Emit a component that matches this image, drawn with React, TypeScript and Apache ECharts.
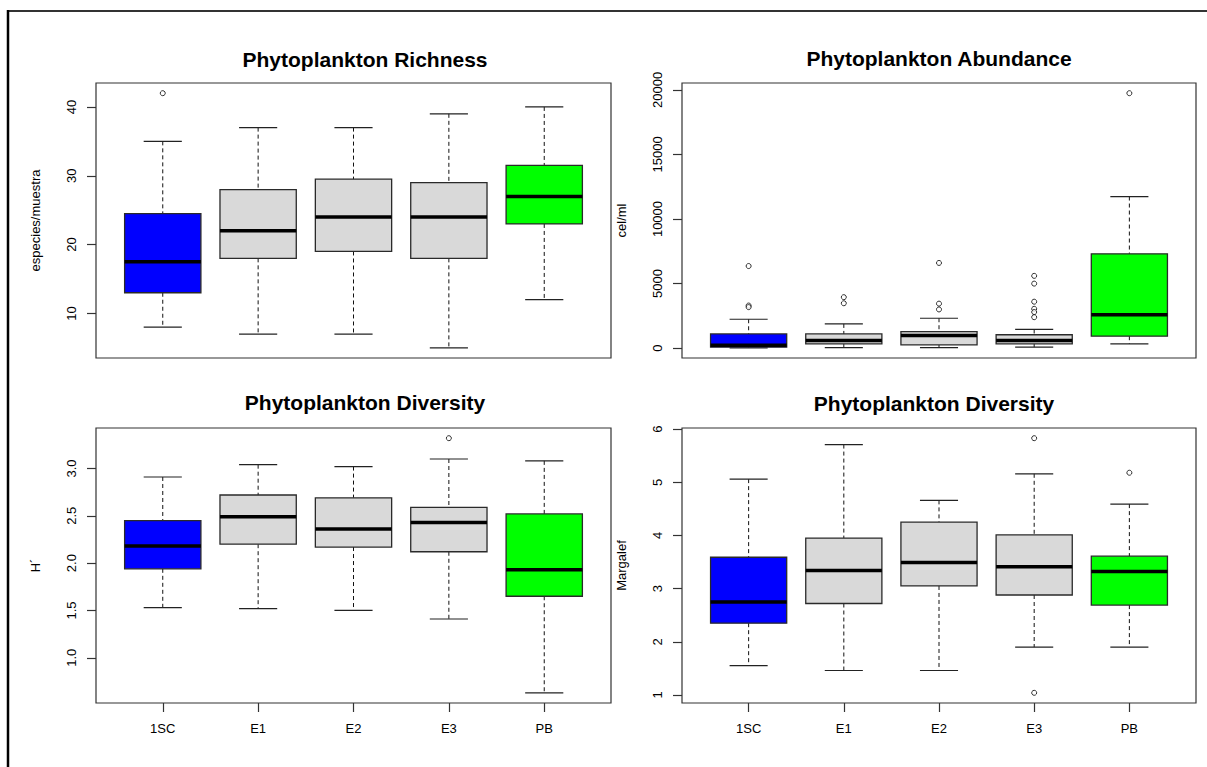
import React, { useEffect, useRef } from "react";
import * as echarts from "echarts";

// ---------- data ----------
const categories = ["1SC", "E1", "E2", "E3", "PB"];
const boxColors = ["#0000FF", "#D9D9D9", "#D9D9D9", "#D9D9D9", "#00FF00"];

// Phytoplankton Richness (especies/muestra)
const richLow = [8, 7, 7, 5, 12];
const richQ1 = [13, 18, 19, 18, 23];
const richMed = [17.5, 22, 24, 24, 27];
const richQ3 = [24.5, 28, 29.5, 29, 31.5];
const richHigh = [35, 37, 37, 39, 40];
const richOut = [[42], [], [], [], []];
const richTicks = [10, 20, 30, 40];

// Phytoplankton Abundance (cel/ml)
const abLow = [30, 50, 50, 80, 340];
const abQ1 = [80, 330, 255, 340, 930];
const abMed = [230, 595, 980, 595, 2585];
const abQ3 = [1105, 1105, 1290, 1040, 7305];
const abHigh = [2240, 1880, 2320, 1450, 11740];
const abOut = [
  [6360, 3300, 3180],
  [3950, 3480],
  [6600, 3450, 3000],
  [5600, 5000, 3600, 3050, 2800, 2400],
  [19740],
];
const abTicks = [0, 5000, 10000, 15000, 20000];

// Phytoplankton Diversity (H')
const hLow = [1.53, 1.52, 1.5, 1.41, 0.63];
const hQ1 = [1.94, 2.2, 2.17, 2.12, 1.65];
const hMed = [2.18, 2.49, 2.36, 2.43, 1.93];
const hQ3 = [2.45, 2.72, 2.69, 2.59, 2.52];
const hHigh = [2.91, 3.04, 3.02, 3.1, 3.08];
const hOut = [[], [], [], [3.32], []];
const hTicks = [1.0, 1.5, 2.0, 2.5, 3.0];

// Phytoplankton Diversity (Margalef)
const mLow = [1.55, 1.46, 1.46, 1.9, 1.9];
const mQ1 = [2.35, 2.72, 3.05, 2.88, 2.69];
const mMed = [2.75, 3.34, 3.49, 3.41, 3.32];
const mQ3 = [3.59, 3.95, 4.25, 4.01, 3.61];
const mHigh = [5.06, 5.71, 4.66, 5.16, 4.59];
const mOut = [[], [], [], [5.83, 1.04], [5.18]];
const mTicks = [1, 2, 3, 4, 5, 6];

const FONT = "'Liberation Sans', Arial, sans-serif";

type Panel = {
  title: string;
  yName: string;
  low: number[];
  q1: number[];
  med: number[];
  q3: number[];
  high: number[];
  out: number[][];
  ticks: number[];
  decimals: number;
  grid: { left: number; top: number; width: number; height: number };
  titleX: number;
  titleY: number;
  showX: boolean;
};

const panels: Panel[] = [
  {
    title: "Phytoplankton Richness",
    yName: "especies/muestra",
    low: richLow, q1: richQ1, med: richMed, q3: richQ3, high: richHigh, out: richOut,
    ticks: richTicks, decimals: 0,
    grid: { left: 96, top: 83, width: 515, height: 275 },
    titleX: 365, titleY: 59, showX: false,
  },
  {
    title: "Phytoplankton Abundance",
    yName: "cel/ml",
    low: abLow, q1: abQ1, med: abMed, q3: abQ3, high: abHigh, out: abOut,
    ticks: abTicks, decimals: 0,
    grid: { left: 682, top: 83, width: 514, height: 275 },
    titleX: 939, titleY: 58, showX: false,
  },
  {
    title: "Phytoplankton Diversity",
    yName: "H´",
    low: hLow, q1: hQ1, med: hMed, q3: hQ3, high: hHigh, out: hOut,
    ticks: hTicks, decimals: 1,
    grid: { left: 96, top: 428, width: 515, height: 275 },
    titleX: 365, titleY: 402, showX: true,
  },
  {
    title: "Phytoplankton Diversity",
    yName: "Margalef",
    low: mLow, q1: mQ1, med: mMed, q3: mQ3, high: mHigh, out: mOut,
    ticks: mTicks, decimals: 0,
    grid: { left: 682, top: 428, width: 514, height: 275 },
    titleX: 934, titleY: 403, showX: true,
  },
];

function extent(p: Panel): [number, number] {
  const all = [...p.low, ...p.high, ...p.out.flat()];
  const mn = Math.min(...all);
  const mx = Math.max(...all);
  const e = (mx - mn) * 0.04;
  return [mn - e, mx + e];
}

function makeRenderItem(colors: string[]) {
  return (params: any, api: any) => {
    const x = api.value(0);
    const pLow = api.coord([x, api.value(1)]);
    const pQ1 = api.coord([x, api.value(2)]);
    const pMed = api.coord([x, api.value(3)]);
    const pQ3 = api.coord([x, api.value(4)]);
    const pHigh = api.coord([x, api.value(5)]);
    const half = api.size([0.4, 0])[0];
    const cap = half / 2;
    const cx = pLow[0];
    const dash = { stroke: "#111", lineWidth: 1, lineDash: [4, 3], fill: null };
    const solid = { stroke: "#222", lineWidth: 1.2, fill: null };
    return {
      type: "group",
      children: [
        { type: "line", shape: { x1: cx, y1: pHigh[1], x2: cx, y2: pQ3[1] }, style: dash },
        { type: "line", shape: { x1: cx, y1: pQ1[1], x2: cx, y2: pLow[1] }, style: dash },
        { type: "line", shape: { x1: cx - cap, y1: pHigh[1], x2: cx + cap, y2: pHigh[1] }, style: solid },
        { type: "line", shape: { x1: cx - cap, y1: pLow[1], x2: cx + cap, y2: pLow[1] }, style: solid },
        {
          type: "rect",
          shape: { x: cx - half, y: pQ3[1], width: 2 * half, height: pQ1[1] - pQ3[1] },
          style: { fill: colors[params.dataIndex], stroke: "#2a2a2a", lineWidth: 1.3 },
        },
        {
          type: "line",
          shape: { x1: cx - half, y1: pMed[1], x2: cx + half, y2: pMed[1] },
          style: { stroke: "#000", lineWidth: 3.5 },
        },
      ],
    };
  };
}

function buildOption() {
  const grid: any[] = [];
  const xAxis: any[] = [];
  const yAxis: any[] = [];
  const series: any[] = [];
  const graphic: any[] = [
    { type: "line", shape: { x1: 7, y1: 11, x2: 1207, y2: 11 }, style: { stroke: "#333", lineWidth: 2 } },
    { type: "line", shape: { x1: 8, y1: 10, x2: 8, y2: 767 }, style: { stroke: "#000", lineWidth: 2.5 } },
  ];

  panels.forEach((p, i) => {
    const [ymin, ymax] = extent(p);
    grid.push({
      ...p.grid,
      show: true,
      borderColor: "#333",
      borderWidth: 1.2,
      backgroundColor: "transparent",
      containLabel: false,
    });
    xAxis.push({
      type: "value",
      gridIndex: i,
      min: 0.3,
      max: 5.7,
      show: p.showX,
      axisLine: { show: false },
      splitLine: { show: false },
      axisTick: {
        show: true,
        customValues: [1, 2, 3, 4, 5],
        length: 9,
        lineStyle: { color: "#333", width: 1.2 },
      },
      axisLabel: {
        customValues: [1, 2, 3, 4, 5],
        formatter: (v: number) => categories[Math.round(v) - 1] ?? "",
        margin: 19,
        fontSize: 13,
        color: "#000",
        fontFamily: FONT,
      },
    });
    yAxis.push({
      type: "value",
      gridIndex: i,
      min: ymin,
      max: ymax,
      name: p.yName,
      nameLocation: "middle",
      nameRotate: 90,
      nameGap: 54,
      nameTextStyle: { fontSize: 13, color: "#000", fontFamily: FONT },
      axisLine: { show: false },
      splitLine: { show: false },
      axisTick: {
        show: true,
        customValues: p.ticks,
        length: 9,
        lineStyle: { color: "#333", width: 1.2 },
      },
      axisLabel: {
        customValues: p.ticks,
        rotate: 90,
        margin: 18,
        fontSize: 13,
        color: "#000",
        fontFamily: FONT,
        formatter: (v: number) => v.toFixed(p.decimals),
      },
    });
    const boxData = categories.map((_, k) => [k + 1, p.low[k], p.q1[k], p.med[k], p.q3[k], p.high[k]]);
    series.push({
      type: "custom",
      xAxisIndex: i,
      yAxisIndex: i,
      renderItem: makeRenderItem(boxColors),
      encode: { x: 0, y: [1, 2, 3, 4, 5] },
      data: boxData,
      clip: false,
      silent: true,
    });
    const outData: number[][] = [];
    p.out.forEach((vals, k) => vals.forEach((v) => outData.push([k + 1, v])));
    series.push({
      type: "scatter",
      xAxisIndex: i,
      yAxisIndex: i,
      symbol: "circle",
      symbolSize: 5,
      itemStyle: { color: "#fff", borderColor: "#000", borderWidth: 1 },
      data: outData,
      silent: true,
    });
    graphic.push({
      type: "text",
      x: p.titleX,
      y: p.titleY,
      style: {
        text: p.title,
        fontSize: 21,
        fontWeight: "bold",
        fontFamily: FONT,
        fill: "#000",
        align: "center",
        verticalAlign: "middle",
      },
    });
  });

  return {
    animation: false,
    backgroundColor: "#fff",
    grid,
    xAxis,
    yAxis,
    series,
    graphic,
  };
}

export default function App() {
  const ref = useRef<HTMLDivElement>(null);
  useEffect(() => {
    if (!ref.current) return;
    const chart = echarts.init(ref.current, null, { renderer: "svg" });
    chart.setOption(buildOption() as any);
    return () => chart.dispose();
  }, []);
  return (
    <div
      ref={ref}
      style={{ position: "absolute", left: 0, top: 0, width: 1207, height: 767, background: "#fff" }}
    />
  );
}
